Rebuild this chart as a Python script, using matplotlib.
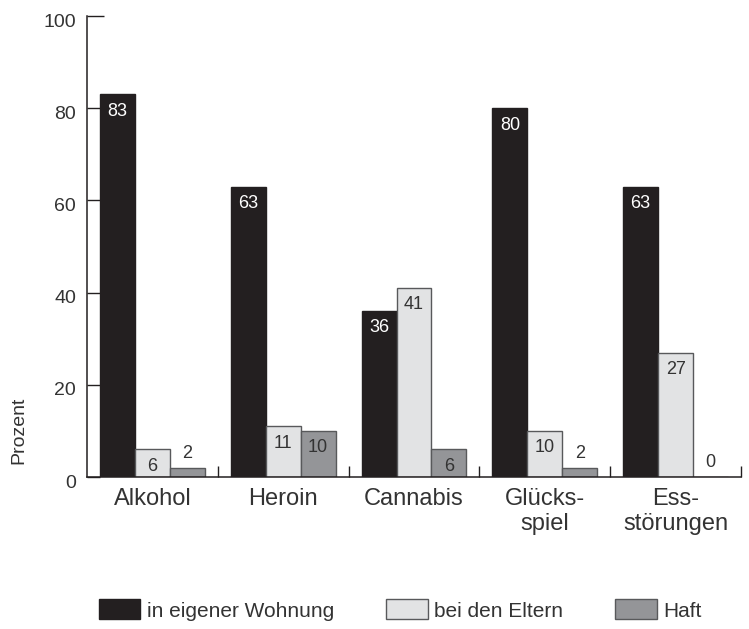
import numpy as np
import matplotlib
matplotlib.use("Agg")
import matplotlib.pyplot as plt
import matplotlib.transforms as mtransforms

plt.rcParams['font.family'] = ['Liberation Sans', 'DejaVu Sans']

# data
categories = ['Alkohol', 'Heroin', 'Cannabis', 'Glücks-\nspiel', 'Ess-\nstörungen']
eigene_wohnung = [83, 63, 36, 80, 63]
bei_eltern = [6, 11, 41, 10, 27]
haft = [2, 10, 6, 2, 0]
series_labels = ['in eigener Wohnung', 'bei den Eltern', 'Haft']

text_col = '#333333'
axis_col = '#231f20'
fills = ['#231f20', '#e2e3e4', '#949598']
edges = ['#231f20', '#58595b', '#58595b']
value_cols = ['white', text_col, text_col]

fig = plt.figure(figsize=(7.49, 6.29), dpi=100)
ax = fig.add_axes([87 / 749, 1 - 477 / 629, (741 - 87) / 749, (477 - 16) / 629])

x = np.arange(len(categories))
w = 0.267
all_series = [eigene_wohnung, bei_eltern, haft]
handles = []
for k, vals in enumerate(all_series):
    bars = ax.bar(x + (k - 1) * w, vals, width=w, color=fills[k],
                  edgecolor=edges[k], linewidth=1.0, zorder=2)
    handles.append(bars)
    # values inside the bar top, small ones above the bar
    for xi, v in zip(x + (k - 1) * w, vals):
        if v >= 5:
            ax.annotate(str(v), (xi, v), xytext=(0, -6), textcoords='offset points',
                        ha='center', va='top', fontsize=13, color=value_cols[k])
        else:
            ax.annotate(str(v), (xi, v), xytext=(0, 4), textcoords='offset points',
                        ha='center', va='bottom', fontsize=13, color=text_col)

ax.set_xlim(-0.5, len(categories) - 0.5)
ax.set_ylim(0, 100)

for s in ['top', 'right']:
    ax.spines[s].set_visible(False)
for s in ['left', 'bottom']:
    ax.spines[s].set_color(axis_col)
    ax.spines[s].set_linewidth(1.1)

ax.set_yticks([0, 20, 40, 60, 80, 100])
ax.tick_params(axis='y', direction='in', length=9, width=1.0, color=axis_col,
               labelsize=14, labelcolor=text_col, pad=8)
ax.yaxis.get_major_ticks()[-1].tick1line.set_markersize(12)
offset = mtransforms.ScaledTranslation(0, -3 / 72, fig.dpi_scale_trans)
for lab in ax.get_yticklabels():
    lab.set_transform(lab.get_transform() + offset)

# group separators on the x axis, category names between them
ax.set_xticks(np.arange(len(categories)) + 0.5)
ax.set_xticklabels([])
ax.tick_params(axis='x', which='major', direction='in', length=8, width=1.0, color=axis_col)
ax.set_xticks(x, minor=True)
ax.set_xticklabels(categories, minor=True, fontsize=17, color=text_col, linespacing=1.15)
ax.tick_params(axis='x', which='minor', length=0, pad=8)

fig.text(19 / 749, 1 - 430 / 629, 'Prozent', rotation=90, ha='center', va='center',
         fontsize=14, color=text_col)

leg = fig.legend(handles, series_labels, loc='center', bbox_to_anchor=(400 / 749, 1 - 610 / 629),
                 ncol=3, frameon=False, fontsize=15, handlelength=2.0, handleheight=1.1,
                 handletextpad=0.3, columnspacing=2.5, borderpad=0)
for t in leg.get_texts():
    t.set_color(text_col)

fig.savefig('out.png', dpi=100)
